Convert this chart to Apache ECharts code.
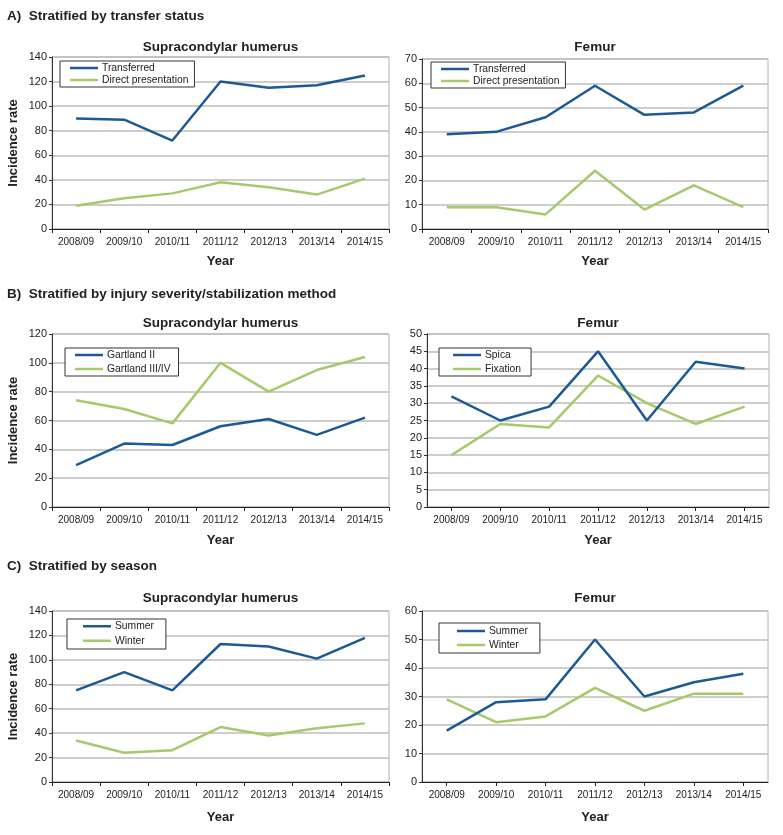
<!DOCTYPE html>
<html>
<head>
<meta charset="utf-8">
<script src="https://cdn.jsdelivr.net/npm/echarts@6/dist/echarts.min.js"></script>
<style>html,body{margin:0;padding:0;background:#fff;}#c{width:783px;height:835px;}</style>
</head>
<body>
<div id="c"></div>
<script>
var years = ['2008/09','2009/10','2010/11','2011/12','2012/13','2013/14','2014/15'];

var aHumTransferred = [90, 89, 72, 120, 115, 117, 125];
var aHumDirect = [19, 25, 29, 38, 34, 28, 41];
var aFemTransferred = [39, 40, 46, 59, 47, 48, 59];
var aFemDirect = [9, 9, 6, 24, 8, 18, 9];

var bHumGartland2 = [29, 44, 43, 56, 61, 50, 62];
var bHumGartland34 = [74, 68, 58, 100, 80, 95, 104];
var bFemSpica = [32, 25, 29, 45, 25, 42, 40];
var bFemFixation = [15, 24, 23, 38, 30, 24, 29];

var cHumSummer = [75, 90, 75, 113, 111, 101, 118];
var cHumWinter = [34, 24, 26, 45, 38, 44, 48];
var cFemSummer = [18, 28, 29, 50, 30, 35, 38];
var cFemWinter = [29, 21, 23, 33, 25, 31, 31];

var headings = ['A)  Stratified by transfer status', 'B)  Stratified by injury severity/stabilization method', 'C)  Stratified by season'];
var panelTitles = ['Supracondylar humerus', 'Femur'];

var BLUE = '#1d5a94', GREEN = '#a7c96b';
var FONT = '"Liberation Sans", Arial, sans-serif';

var panels = [
  {grid:{left:52, top:57, width:337, height:172}, max:140, interval:20, align:false,
   names:['Transferred','Direct presentation'], data:[aHumTransferred, aHumDirect],
   legend:{left:60, top:61, padding:[1,6,1,10], lh:12}, title:panelTitles[0], titleY:47, yearY:261, yName:true},
  {grid:{left:422, top:59, width:346, height:170}, max:70, interval:10, align:false,
   names:['Transferred','Direct presentation'], data:[aFemTransferred, aFemDirect],
   legend:{left:431, top:62, padding:[1,6,1,10], lh:12}, title:panelTitles[1], titleY:47, yearY:261, yName:false},
  {grid:{left:52, top:334, width:337, height:173}, max:120, interval:20, align:false,
   names:['Gartland II','Gartland III/IV'], data:[bHumGartland2, bHumGartland34],
   legend:{left:65, top:348, padding:[0,8,0,10], lh:14}, title:panelTitles[0], titleY:323, yearY:540, yName:true},
  {grid:{left:427, top:334, width:342, height:173}, max:50, interval:5, align:true,
   names:['Spica','Fixation'], data:[bFemSpica, bFemFixation],
   legend:{left:439, top:348, padding:[0,10,0,14], lh:14}, title:panelTitles[1], titleY:323, yearY:540, yName:false},
  {grid:{left:52, top:611, width:337, height:171}, max:140, interval:20, align:false,
   names:['Summer','Winter'], data:[cHumSummer, cHumWinter],
   legend:{left:67, top:619, padding:[0,12,1,16], lh:14.5}, title:panelTitles[0], titleY:598, yearY:817, yName:true},
  {grid:{left:422, top:611, width:346, height:171}, max:60, interval:10, align:true,
   names:['Summer','Winter'], data:[cFemSummer, cFemWinter],
   legend:{left:439, top:623, padding:[1,12,1,18], lh:14}, title:panelTitles[1], titleY:598, yearY:817, yName:false}
];

var grids = [], xAxes = [], yAxes = [], series = [], legends = [], graphics = [];
var headingY = [17, 295, 567];
headings.forEach(function (h, i) {
  graphics.push({type:'text', left:7, top:headingY[i] - 8, style:{text:h, font:'bold 13.5px ' + FONT, fill:'#222'}});
});

panels.forEach(function (p, i) {
  grids.push({left:p.grid.left, top:p.grid.top, width:p.grid.width, height:p.grid.height,
    show:true, borderColor:'#b4b4b4', borderWidth:1, containLabel:false});
  xAxes.push({type:'category', gridIndex:i, data:years, boundaryGap:true,
    axisLine:{show:true, lineStyle:{color:'#222', width:1}},
    axisTick:{show:true, alignWithLabel:p.align, length:4, inside:false, lineStyle:{color:'#222'}},
    axisLabel:{color:'#222', fontSize:10, fontFamily:FONT, margin:8, interval:0},
    splitLine:{show:false}});
  yAxes.push({type:'value', gridIndex:i, min:0, max:p.max, interval:p.interval,
    axisLine:{show:true, lineStyle:{color:'#333', width:1}},
    axisTick:{show:true, length:3, lineStyle:{color:'#333'}},
    axisLabel:{color:'#222', fontSize:11, fontFamily:FONT, margin:5},
    splitLine:{show:true, lineStyle:{color:'#bdbdbd', width:1.5}}});
  var colors = [BLUE, GREEN];
  p.names.forEach(function (n, k) {
    series.push({type:'line', name:n, xAxisIndex:i, yAxisIndex:i, data:p.data[k],
      symbol:'none', lineStyle:{color:colors[k], width:2.5}, itemStyle:{color:colors[k]},
      silent:true, animation:false, z:3 + (1 - k)});
  });
  legends.push({left:p.legend.left, top:p.legend.top, orient:'vertical', data:p.names,
    backgroundColor:'#fff', borderColor:'#333', borderWidth:1, padding:p.legend.padding,
    itemGap:0, itemWidth:28, itemHeight:2.5, icon:'rect', selectedMode:false,
    textStyle:{fontSize:10.3, fontFamily:FONT, color:'#222', lineHeight:p.legend.lh, padding:[0,0,0,-1]}});
  var cx = p.grid.left + p.grid.width / 2;
  graphics.push({type:'text', x:cx, y:p.titleY, style:{text:p.title, font:'bold 13.5px ' + FONT, fill:'#222', textAlign:'center', textVerticalAlign:'middle'}});
  graphics.push({type:'text', x:cx, y:p.yearY, style:{text:'Year', font:'bold 13px ' + FONT, fill:'#222', textAlign:'center', textVerticalAlign:'middle'}});
  if (p.yName) {
    graphics.push({type:'text', x:13, y:p.grid.top + p.grid.height / 2, rotation:Math.PI / 2,
      style:{text:'Incidence rate', font:'bold 13px ' + FONT, fill:'#222', textAlign:'center', textVerticalAlign:'middle'}});
  }
});

var chart = echarts.init(document.getElementById('c'), null, {renderer:'canvas'});
chart.setOption({
  animation:false,
  backgroundColor:'#fff',
  grid:grids, xAxis:xAxes, yAxis:yAxes, series:series, legend:legends,
  graphic:graphics
});
</script>
</body>
</html>
